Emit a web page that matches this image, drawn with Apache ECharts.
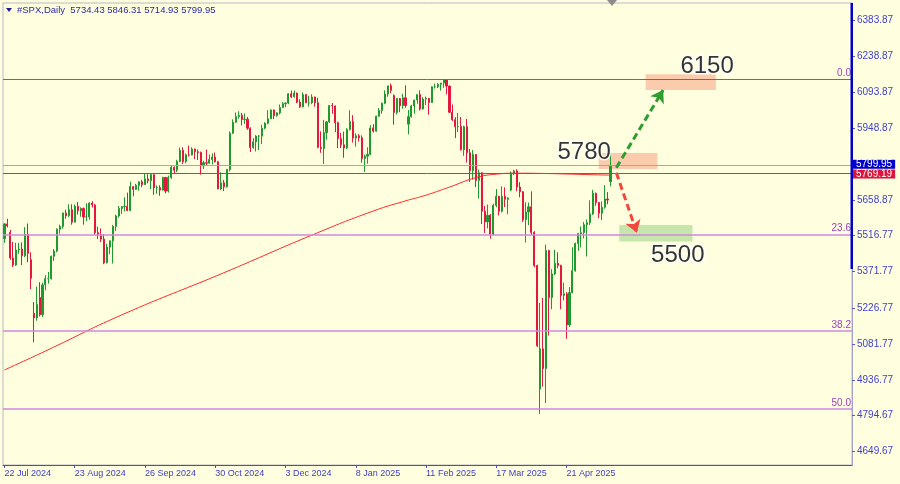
<!DOCTYPE html>
<html><head><meta charset="utf-8">
<script src="https://cdn.jsdelivr.net/npm/echarts@6/dist/echarts.min.js"></script>
<style>html,body{margin:0;padding:0;background:#ffffe0;}#c{width:900px;height:484px;}</style>
</head><body><div id="c"></div>
<script>
// Daily bars, rows are [open, close, low, high]
const jul24 = [[5505,5564,5488,5567],[5564,5556,5550,5585],[5530,5427,5420,5540],[5427,5399,5391,5491],[5399,5459,5395,5488],[5459,5463,5444,5488],[5463,5436,5398,5490],[5436,5522,5430,5551]];
const aug24 = [[5522,5446,5410,5566],[5420,5346,5302,5450],[5205,5186,5088,5250],[5186,5240,5175,5312],[5268,5199,5192,5330],[5199,5319,5190,5328],[5319,5344,5297,5358],[5344,5344,5324,5371],[5344,5434,5340,5437],[5434,5455,5415,5463],[5455,5543,5450,5546],[5543,5554,5525,5561],[5554,5608,5545,5609],[5608,5597,5585,5621],[5597,5621,5591,5643],[5621,5571,5561,5643],[5571,5635,5570,5642],[5635,5617,5602,5652],[5617,5626,5593,5631],[5626,5592,5561,5630],[5592,5592,5575,5647],[5592,5648,5581,5651]];
const sep24 = [[5648,5640,5630,5655],[5640,5529,5521,5645],[5529,5520,5503,5553],[5520,5503,5491,5546],[5503,5408,5402,5523],[5408,5471,5405,5484],[5471,5496,5442,5498],[5496,5554,5405,5560],[5554,5596,5535,5601],[5596,5626,5590,5636],[5626,5633,5604,5636],[5633,5635,5614,5671],[5635,5618,5615,5690],[5618,5714,5615,5734],[5714,5703,5675,5716],[5703,5719,5700,5725],[5719,5733,5698,5735],[5733,5722,5712,5741],[5722,5745,5721,5767],[5745,5738,5727,5764],[5738,5762,5704,5765]];
const oct24 = [[5762,5709,5681,5764],[5709,5710,5685,5719],[5710,5700,5677,5719],[5700,5751,5698,5753],[5751,5696,5687,5752],[5696,5751,5690,5758],[5751,5792,5745,5797],[5792,5780,5765,5795],[5780,5815,5772,5822],[5815,5860,5812,5871],[5860,5815,5805,5872],[5815,5842,5808,5847],[5842,5841,5835,5879],[5841,5865,5840,5872],[5865,5854,5825,5867],[5854,5851,5821,5863],[5851,5797,5762,5855],[5797,5810,5785,5818],[5810,5808,5800,5863],[5808,5823,5806,5843],[5823,5833,5803,5847],[5833,5814,5811,5851],[5814,5705,5703,5816]];
const nov24 = [[5705,5729,5700,5772],[5729,5713,5696,5741],[5713,5783,5710,5784],[5783,5929,5775,5936],[5929,5973,5925,5984],[5973,5996,5970,6012],[5996,6001,5987,6017],[6001,5984,5960,6010],[5984,5985,5966,6008],[5985,5949,5942,5994],[5949,5871,5853,5952],[5871,5894,5866,5909],[5894,5917,5855,5921],[5917,5917,5861,5921],[5917,5949,5885,5963],[5949,5969,5944,5973],[5969,5987,5964,6021],[5987,6022,5985,6025],[6022,5999,5985,6024],[5999,6010,5995,6014],[6010,6032,6004,6044]];
const dec24 = [[6032,6047,6030,6054],[6047,6050,6033,6052],[6050,6087,6045,6090],[6087,6075,6070,6100],[6075,6090,6072,6100],[6090,6053,6049,6092],[6053,6035,6030,6065],[6035,6084,6032,6093],[6084,6051,6050,6086],[6051,6051,6036,6079],[6051,6074,6045,6085],[6074,6051,6035,6076],[6051,5872,5868,6071],[5872,5867,5850,5936],[5867,5931,5805,5982],[5931,5974,5903,5978],[5974,6040,5970,6041],[6040,6038,6007,6050],[6038,5971,5933,6040],[5971,5907,5869,5975],[5907,5882,5869,5930]];
const jan25 = [[5882,5869,5830,5935],[5869,5943,5865,5949],[5943,5975,5940,6021],[5975,5909,5891,6001],[5909,5918,5875,5928],[5918,5910,5895,5925],[5910,5827,5810,5920],[5827,5836,5773,5843],[5836,5843,5806,5872],[5843,5950,5840,5961],[5950,5937,5931,5965],[5937,5997,5935,5999],[5997,6020,5995,6030],[6020,6049,6007,6052],[6049,6086,6045,6101],[6086,6119,6075,6119],[6119,6101,6089,6128],[6080,6012,5963,6085],[6012,6068,6004,6069],[6068,6039,6013,6070],[6039,6071,6027,6087],[6071,6040,6031,6121]];
const feb25 = [[5965,5995,5924,6022],[5995,6038,5991,6043],[6038,6062,6007,6063],[6062,6084,6047,6084],[6084,6026,6020,6101],[6026,6066,6024,6073],[6066,6069,6042,6076],[6069,6052,6003,6070],[6052,6115,6051,6117],[6115,6115,6108,6128],[6115,6125,6110,6130],[6125,6130,6100,6131],[6130,6144,6111,6147],[6144,6118,6085,6146],[6118,6013,6009,6120],[6013,5983,5978,6044],[5983,5955,5909,5993],[5955,5956,5933,6010],[5956,5862,5859,5994],[5862,5955,5838,5959]];
const mar25 = [[5955,5850,5811,5986],[5850,5778,5733,5865],[5778,5843,5742,5861],[5843,5739,5712,5845],[5739,5770,5666,5783],[5770,5615,5564,5772],[5615,5572,5528,5636],[5572,5599,5546,5642],[5599,5522,5505,5604],[5522,5639,5518,5645],[5639,5675,5631,5704],[5675,5615,5598,5677],[5615,5675,5610,5715],[5675,5663,5632,5711],[5663,5668,5603,5671],[5700,5768,5695,5775],[5768,5777,5760,5782],[5777,5712,5696,5784],[5712,5693,5671,5732],[5693,5581,5572,5696],[5581,5612,5489,5651]];
const apr25 = [[5612,5633,5559,5650],[5633,5530,5520,5695],[5530,5397,5390,5535],[5397,5074,5069,5400],[4900,5062,4800,5247],[5062,4983,4910,5267],[4983,5457,4844,5481],[5457,5268,5115,5460],[5268,5363,5221,5382],[5363,5406,5358,5460],[5406,5397,5386,5450],[5397,5276,5221,5400],[5276,5283,5256,5328],[5283,5158,5102,5290],[5158,5288,5150,5310],[5288,5376,5285,5470],[5376,5485,5372,5489],[5485,5525,5456,5528],[5525,5529,5469,5554],[5529,5561,5506,5572],[5561,5569,5433,5582]];
const may25 = [[5569,5604,5560,5659],[5604,5687,5600,5701],[5687,5650,5637,5690],[5650,5607,5587,5652],[5607,5631,5579,5654],[5631,5664,5625,5720],[5664,5660,5643,5692],[5734.43,5799.95,5714.93,5846.31]];

const dateLabels = ['22 Jul 2024','23 Aug 2024','26 Sep 2024','30 Oct 2024','3 Dec 2024','8 Jan 2025','11 Feb 2025','17 Mar 2025','21 Apr 2025'];
const barsPerLabel = 24;
const priceTicks = [6383.87,6238.87,6093.87,5948.87,5658.87,5516.77,5371.77,5226.77,5081.77,4936.77,4794.67,4649.67];
// 200-period moving average, read at sample bars: [bar index, value]
const maPoints = [[0,4977],[14,5053],[40,5198],[75,5368],[105,5519],[126,5616],[138,5660],[143,5676],[152,5712],[161,5750],[168,5764],[175,5768],[183,5767],[191,5765],[200,5762],[207,5760]];
const fibNames = ['0.0','23.6','38.2','50.0'];
const fibValues = [6147.43,5520.65,5132.90,4819.50];
const bidPrice = 5799.95;
const lineLevel = 5769.19;
const headerTitle = '#SPX,Daily';
const headerValues = [5734.43,5846.31,5714.93,5799.95];
const targetTexts = ['6150','5780','5500'];

const ohlc = [].concat(jul24,aug24,sep24,oct24,nov24,dec24,jan25,feb25,mar25,apr25,may25);
const slotCount = 290;
const categories = Array.from({length: slotCount}, (_, i) => String(i));

const BULL = '#1f9a2e', BEAR = '#e5173f';
const tickShown = (i) => i % barsPerLabel === 0 && i / barsPerLabel < dateLabels.length;

const chart = echarts.init(document.getElementById('c'), null, {renderer: 'canvas'});

function levelSeries(value, color, width, label, z) {
  return {
    type: 'line', data: [], silent: true, z: z,
    itemStyle: {color: color}, lineStyle: {color: color},
    markLine: {
      silent: true, symbol: 'none', animation: false,
      lineStyle: {color: color, width: width, type: 'solid', opacity: 1},
      data: [{yAxis: value}],
      label: label
    }
  };
}

const fibSeries = fibNames.map((n, i) => levelSeries(fibValues[i], i === 0 ? '#9a46cc' : '#cf88df', i === 0 ? 1 : 1.5,
  {show: true, position: 'insideEndTop', formatter: n, color: '#a040c4', fontSize: 10, distance: 1}, 1));

const option = {
  animation: false,
  backgroundColor: '#ffffe0',
  textStyle: {fontFamily: 'Liberation Sans'},
  grid: {left: 3, right: 48, top: 3, bottom: 19, show: true, borderColor: '#b8b8c4', borderWidth: 1},
  xAxis: {
    type: 'category', data: categories, boundaryGap: true,
    axisLine: {lineStyle: {color: '#4a4ad4', width: 1}},
    axisTick: {show: true, alignWithLabel: true, interval: tickShown, length: 3, lineStyle: {color: '#4a4ad4'}},
    axisLabel: {interval: tickShown, align: 'left', margin: 4, color: '#3c3cc8', fontSize: 9,
      formatter: (v, i) => dateLabels[Math.round(i / barsPerLabel)] || ''},
    splitLine: {show: false}
  },
  yAxis: {
    type: 'value', position: 'right', min: 4595, max: 6452,
    splitLine: {show: false},
    axisLine: {show: true, lineStyle: {color: '#a0a0d4'}},
    axisTick: {show: true, length: 3, customValues: priceTicks, lineStyle: {color: '#5a5ac8'}},
    axisLabel: {customValues: priceTicks, formatter: v => v.toFixed(2), color: '#3f3fcf', fontSize: 10, margin: 5}
  },
  series: fibSeries.concat([
    levelSeries(bidPrice, '#a8a8a8', 1,
      {show: true, position: 'end', formatter: bidPrice.toFixed(2), color: '#fff', backgroundColor: '#0000cc', fontSize: 10, lineHeight: 9, padding: [0, 3, 0, 3], distance: 1, offset: [0, -1]}, 1),
    levelSeries(lineLevel, '#e82a44', 1,
      {show: true, position: 'end', formatter: lineLevel.toFixed(2), color: '#fff', backgroundColor: '#dc143c', fontSize: 10, lineHeight: 9, padding: [0, 3, 0, 3], distance: 1, offset: [0, 1]}, 1),
    {
      type: 'candlestick', data: ohlc, barWidth: 1.6, z: 2,
      itemStyle: {color: BULL, color0: BEAR, borderColor: BULL, borderColor0: BEAR, borderColorDoji: BULL, borderWidth: 1},
      markArea: {
        silent: true,
        data: [
          [{coord: [219, 6166], itemStyle: {color: 'rgba(246,140,110,0.45)'}}, {coord: [243, 6102]}],
          [{coord: [203, 5849], itemStyle: {color: 'rgba(246,140,110,0.45)'}}, {coord: [223, 5785]}],
          [{coord: [210, 5560], itemStyle: {color: 'rgba(120,196,100,0.42)'}}, {coord: [235, 5493]}]
        ]
      }
    },
    {
      type: 'line', data: maPoints, smooth: true, showSymbol: false, silent: true,
      lineStyle: {color: '#ff2a2a', width: 1}, z: 3
    },
    {
      type: 'lines', coordinateSystem: 'cartesian2d', silent: true, z: 5,
      symbol: ['none', 'arrow'], symbolSize: 12,
      lineStyle: {width: 3, type: [7, 4], opacity: 1},
      data: [
        {coords: [[209, 5790], [225, 6102]], lineStyle: {color: '#2e9e2e'}},
        {coords: [[209, 5770], [216, 5529]], lineStyle: {color: '#f2473f'}}
      ]
    },
    {
      type: 'scatter', symbolSize: 0, silent: true, z: 6,
      data: [[240, 6199, targetTexts[0]], [198, 5853, targetTexts[1]], [230, 5439, targetTexts[2]]],
      label: {show: true, position: 'inside', formatter: p => p.data[2], color: '#000', fontSize: 24,
        fontFamily: 'Liberation Sans', textBorderColor: '#ffffff', textBorderWidth: 3}
    }
  ]),
  graphic: [
    {type: 'rect', shape: {x: 850.5, y: 3, width: 2.5, height: 266}, style: {fill: '#0000cd'}, z: 10},
    {type: 'polygon', shape: {points: [[607, 0], [617, 0], [612, 6]]}, style: {fill: '#8c8c8c'}, z: 10},
    {type: 'polygon', shape: {points: [[6, 8], [12, 8], [9, 12]]}, style: {fill: '#1c1c9c'}, z: 10},
    {type: 'text', left: 17, top: 5, z: 10,
      style: {text: headerTitle + '  ' + headerValues.map(v => v.toFixed(2)).join(' '), fill: '#2a2aa8', fontSize: 9.5, fontFamily: 'Liberation Sans'}}
  ]
};
chart.setOption(option);
</script></body></html>
